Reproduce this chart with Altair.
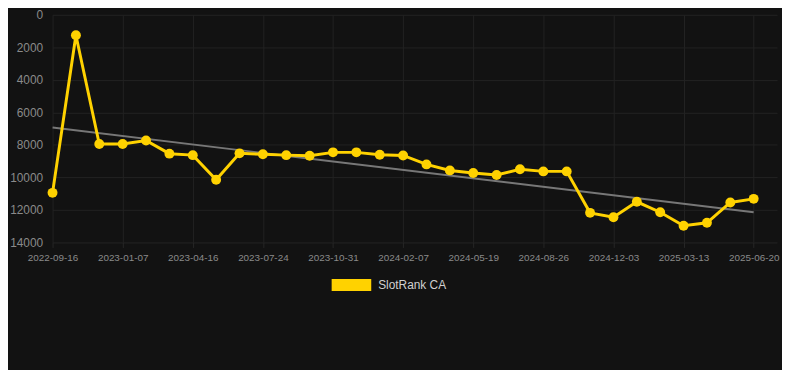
import altair as alt
import pandas as pd

dates = ["2022-09-16", "2022-10-24", "2022-12-01", "2023-01-07", "2023-02-09", "2023-03-14",
         "2023-04-16", "2023-05-19", "2023-06-21", "2023-07-24", "2023-08-26", "2023-09-28",
         "2023-10-31", "2023-12-03", "2024-01-05", "2024-02-07", "2024-03-11", "2024-04-15",
         "2024-05-19", "2024-06-21", "2024-07-24", "2024-08-26", "2024-09-28", "2024-10-31",
         "2024-12-03", "2025-01-05", "2025-02-08", "2025-03-13", "2025-04-15", "2025-05-18",
         "2025-06-20"]
ranks = [10950, 1260, 7950, 7950, 7730, 8540, 8630, 10140, 8520, 8580, 8630, 8670, 8460, 8460,
         8610, 8650, 9200, 9570, 9730, 9850, 9500, 9630, 9630, 12180, 12450, 11500, 12140, 12970,
         12790, 11540, 11320]
series_name = "SlotRank CA"
y_ticks = [0, 2000, 4000, 6000, 8000, 10000, 12000, 14000]

df = pd.DataFrame({"idx": list(range(len(dates))), "date": dates, "rank": ranks,
                   "series": [series_name] * len(dates)})

label_expr = "[" + ",".join(f"'{d}'" for d in dates) + "][datum.value]"

x_enc = alt.X("idx:Q", scale=alt.Scale(domain=[0, 31], nice=False, zero=False),
              axis=alt.Axis(values=list(range(0, 31, 3)), labelExpr=label_expr, title=None,
                            grid=True, gridColor="#222222", domain=False, ticks=True,
                            tickColor="#262626", tickSize=5, labelColor="#8a8a8a",
                            labelFontSize=10, labelPadding=5, labelFont="Liberation Sans",
                            labelOverlap=False, labelFlush=False))
y_enc = alt.Y("rank:Q", scale=alt.Scale(domain=[0, 14000], reverse=True, nice=False),
              axis=alt.Axis(values=y_ticks, format="d", title=None, grid=True,
                            gridColor="#222222", domain=False, ticks=False,
                            labelColor="#8a8a8a", labelFontSize=12, labelPadding=10,
                            labelFont="Liberation Sans", labelFlush=False,
                            labelOverlap=False))

base = alt.Chart(df)

trend = base.transform_regression("idx", "rank").mark_line(
    color="#777777", strokeWidth=2).encode(x=x_enc, y=y_enc)

line = base.mark_line(color="#FFD200", strokeWidth=3).encode(x=x_enc, y=y_enc)

points = base.mark_circle(size=100, opacity=1).encode(
    x=x_enc, y=y_enc,
    color=alt.Color("series:N", scale=alt.Scale(domain=[series_name], range=["#FFD200"]),
                    legend=alt.Legend(title=None, orient="none", legendX=282, legendY=253,
                                      symbolType="M-1,-0.3L1,-0.3L1,0.3L-1,0.3Z",
                                      symbolSize=1600, symbolStrokeWidth=0,
                                      labelColor="#d0d0d0", labelFontSize=12,
                                      labelFont="Liberation Sans", labelOffset=7,
                                      padding=0)))

chart = alt.layer(trend, line, points).properties(
    width=732, height=230,
    background="#121212",
    autosize=alt.AutoSizeParams(type="none"),
    padding={"left": 45, "top": 5, "right": 5, "bottom": 127},
).configure_view(stroke=None)

chart.save("out.html", embed_options={"renderer": "svg", "actions": False})
